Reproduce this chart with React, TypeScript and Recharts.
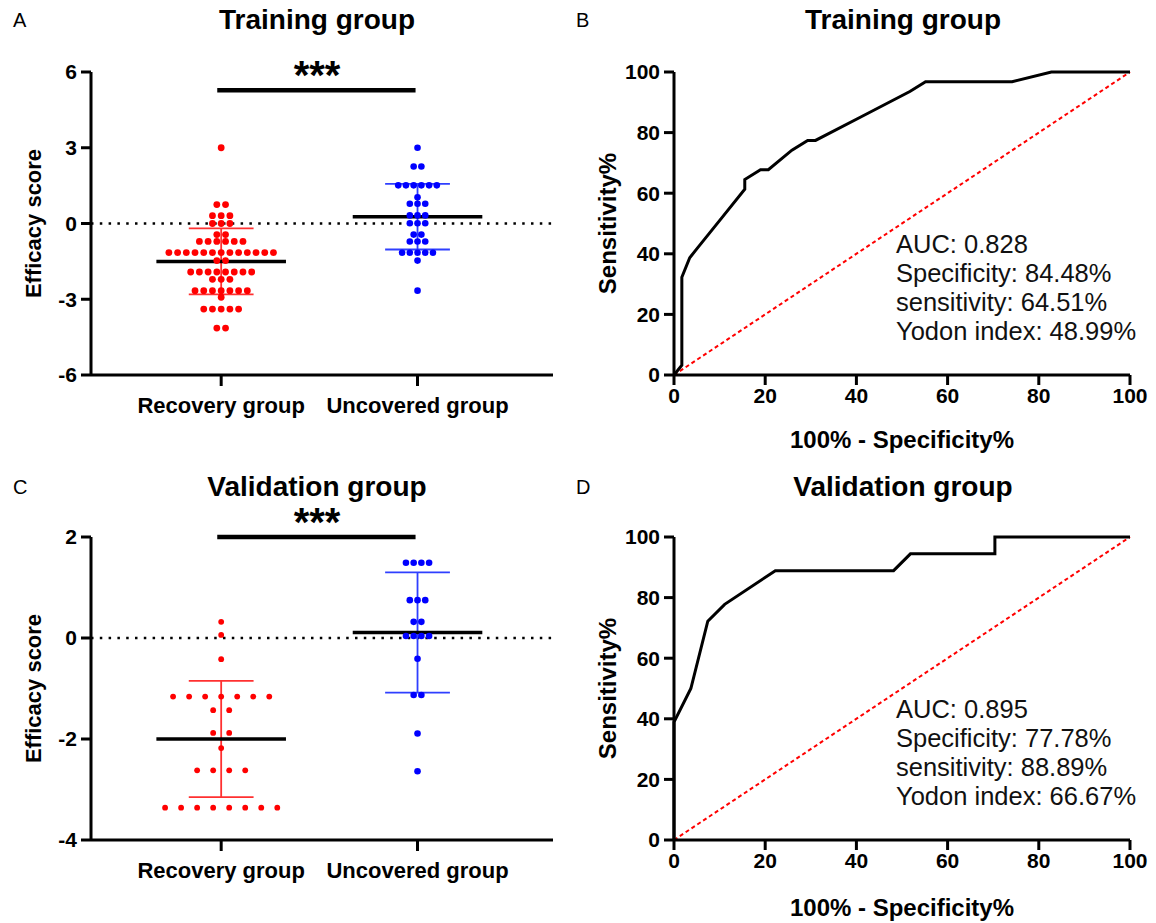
import React from 'react';
import { ScatterChart, Scatter, LineChart, Line, XAxis, YAxis, ReferenceLine, Label } from 'recharts';

// ---------- data ----------
const groupNames = ['Recovery group', 'Uncovered group'];

const trainRecovery = [
  3.0,
  0.75, 0.75,
  0.31, 0.31, 0.31,
  0.0, 0.0, 0.0,
  -0.44, -0.44,
  -0.71, -0.71, -0.71, -0.71, -0.71, -0.71,
  -1.15, -1.15, -1.15, -1.15, -1.15, -1.15, -1.15, -1.15, -1.15, -1.15, -1.15, -1.15, -1.15,
  -1.47, -1.47,
  -1.92, -1.92, -1.92, -1.92, -1.92, -1.92, -1.92, -1.92,
  -2.21, -2.21, -2.21,
  -2.66, -2.66, -2.66, -2.66, -2.66, -2.66, -2.66,
  -2.92,
  -3.39, -3.39, -3.39, -3.39, -3.39,
  -4.14, -4.14,
];
const trainUncovered = [
  3.0,
  2.26, 2.26,
  1.51, 1.51, 1.51, 1.51, 1.51, 1.51,
  1.04,
  0.78, 0.78, 0.78,
  0.32, 0.32, 0.32,
  0.01, 0.01, 0.01,
  -0.44, -0.44,
  -0.71, -0.71, -0.71,
  -1.16, -1.16, -1.16, -1.16, -1.16,
  -1.47,
  -2.66,
];
const validRecovery = [
  0.32,
  0.06,
  -0.42,
  -1.16, -1.16, -1.16, -1.16, -1.16, -1.16, -1.16,
  -1.43, -1.43,
  -1.88, -1.88,
  -2.18,
  -2.62, -2.62, -2.62, -2.62,
  -3.36, -3.36, -3.36, -3.36, -3.36, -3.36, -3.36, -3.36,
];
const validUncovered = [
  1.49, 1.49, 1.49, 1.49,
  0.75, 0.75, 0.75,
  0.32, 0.32,
  0.04, 0.04, 0.04, 0.04,
  -0.41,
  -1.13, -1.13,
  -1.89,
  -2.64,
];

const trainMeans = [-1.5, 0.27];
const trainSDs = [1.31, 1.3];
const validMeans = [-2.0, 0.11];
const validSDs = [1.15, 1.19];

const trainYTicks = [-6, -3, 0, 3, 6];
const validYTicks = [-4, -2, 0, 2];

const rocTrainFpr = [0, 1.72, 1.72, 3.45, 5.17, 10.34, 15.52, 15.52, 18.97, 20.69, 25.86, 29.31, 31.03, 41.38, 51.72, 55.17, 74.14, 82.76, 100];
const rocTrainTpr = [0, 3.23, 32.26, 38.71, 41.94, 51.61, 61.29, 64.52, 67.74, 67.74, 74.19, 77.42, 77.42, 85.48, 93.55, 96.77, 96.77, 100, 100];
const rocValidFpr = [0, 0, 3.7, 7.41, 11.11, 22.22, 48.15, 51.85, 70.37, 70.37, 100];
const rocValidTpr = [0, 38.89, 50.0, 72.22, 77.78, 88.89, 88.89, 94.44, 94.44, 100, 100];
const rocTicks = [0, 20, 40, 60, 80, 100];

const statsTrain = ['AUC: 0.828', 'Specificity: 84.48%', 'sensitivity: 64.51%', 'Yodon index: 48.99%'];
const statsValid = ['AUC: 0.895', 'Specificity: 77.78%', 'sensitivity: 88.89%', 'Yodon index: 66.67%'];

// ---------- style ----------
const FONT = '"Liberation Sans", Arial, Helvetica, sans-serif';
const GROUP_PX = 196;
const RED = '#FF0000';
const BLUE = '#0000FF';
const RED_BAR = '#FF3030';
const BLUE_BAR = '#2F3FFF';

const axisLineStyle = { stroke: '#000', strokeWidth: 3 };

function swarm(values: number[], group: number, spacingPx: number) {
  const counts = new Map<number, number>();
  values.forEach((v) => counts.set(v, (counts.get(v) || 0) + 1));
  const seen = new Map<number, number>();
  return values.map((v) => {
    const n = counts.get(v) as number;
    const i = seen.get(v) || 0;
    seen.set(v, i + 1);
    return { x: group + ((i - (n - 1) / 2) * spacingPx) / GROUP_PX, y: v };
  });
}

const dotShape = (r: number, color: string) => (props: any) =>
  <circle cx={props.cx} cy={props.cy} r={r} fill={color} />;

function DotPanel(props: {
  left: number; top: number; height: number; xAxisHeight: number;
  recovery: number[]; uncovered: number[]; means: number[]; sds: number[];
  yDomain: [number, number]; yTicks: number[]; sigY: number;
  spacing: [number, number]; radii: [number, number];
}) {
  const { left, top, height, xAxisHeight, recovery, uncovered, means, sds, yDomain, yTicks, sigY, spacing, radii } = props;
  const red = swarm(recovery, 1, spacing[0]);
  const blue = swarm(uncovered, 2, spacing[1]);
  const barColors = [RED_BAR, BLUE_BAR];
  return (
    <div style={{ position: 'absolute', left, top }}>
      <ScatterChart width={578} height={height} margin={{ top: 72, right: 25, bottom: 0, left: 0 }}>
        <XAxis
          type="number" dataKey="x" domain={[0.337, 2.69]} ticks={[1, 2]} interval={0}
          tickFormatter={(v: number) => groupNames[v - 1]} height={xAxisHeight}
          axisLine={axisLineStyle} tickLine={axisLineStyle} tickSize={11} tickMargin={11}
          tick={{ fill: '#000', fontSize: 22, fontWeight: 700, fontFamily: FONT }} allowDataOverflow
        />
        <YAxis
          type="number" dataKey="y" domain={yDomain} ticks={yTicks} interval={0} width={91}
          axisLine={axisLineStyle} tickLine={axisLineStyle} tickSize={10} tickMargin={4}
          tick={{ fill: '#000', fontSize: 21, fontWeight: 700, fontFamily: FONT }} allowDataOverflow
        >
          <Label value="Efficacy score" angle={-90} position="insideLeft" offset={33}
            style={{ textAnchor: 'middle', fontSize: 22, fontWeight: 700, fill: '#000', fontFamily: FONT }} />
        </YAxis>
        <ReferenceLine y={0} stroke="#000" strokeWidth={2.5} strokeDasharray="2.5 6.3" />
        <Scatter data={red} isAnimationActive={false} shape={dotShape(radii[0], RED)} />
        <Scatter data={blue} isAnimationActive={false} shape={dotShape(radii[1], BLUE)} />
        {means.map((m, g) => {
          const c = g + 1;
          const s = sds[g];
          return (
            <React.Fragment key={g}>
              <ReferenceLine segment={[{ x: c, y: m - s }, { x: c, y: m + s }]} stroke={barColors[g]} strokeWidth={1.8} />
              <ReferenceLine segment={[{ x: c - 0.165, y: m + s }, { x: c + 0.165, y: m + s }]} stroke={barColors[g]} strokeWidth={1.8} />
              <ReferenceLine segment={[{ x: c - 0.165, y: m - s }, { x: c + 0.165, y: m - s }]} stroke={barColors[g]} strokeWidth={1.8} />
              <ReferenceLine segment={[{ x: c - 0.33, y: m }, { x: c + 0.33, y: m }]} stroke="#000" strokeWidth={3.5} />
            </React.Fragment>
          );
        })}
        <ReferenceLine segment={[{ x: 0.98, y: sigY }, { x: 1.99, y: sigY }]} stroke="#000" strokeWidth={4.5} />
      </ScatterChart>
    </div>
  );
}

function RocPanel(props: {
  left: number; top: number; height: number; xAxisHeight: number; labelOffset: number;
  fpr: number[]; tpr: number[];
}) {
  const { left, top, height, xAxisHeight, labelOffset, fpr, tpr } = props;
  const data = fpr.map((f, i) => ({ fpr: f, tpr: tpr[i] }));
  return (
    <div style={{ position: 'absolute', left, top }}>
      <LineChart width={578} height={height} data={data} margin={{ top: 72, right: 26, bottom: 0, left: 0 }}>
        <XAxis
          type="number" dataKey="fpr" domain={[0, 100]} ticks={rocTicks} interval={0} height={xAxisHeight}
          axisLine={axisLineStyle} tickLine={axisLineStyle} tickSize={10} tickMargin={3}
          tick={{ fill: '#000', fontSize: 21, fontWeight: 700, fontFamily: FONT }}
        >
          <Label value="100% - Specificity%" position="insideBottom" offset={labelOffset}
            style={{ fontSize: 24, fontWeight: 700, fill: '#000', fontFamily: FONT }} />
        </XAxis>
        <YAxis
          type="number" domain={[0, 100]} ticks={rocTicks} interval={0} width={96}
          axisLine={axisLineStyle} tickLine={axisLineStyle} tickSize={10} tickMargin={4}
          tick={{ fill: '#000', fontSize: 21, fontWeight: 700, fontFamily: FONT }}
        >
          <Label value="Sensitivity%" angle={-90} position="insideLeft" offset={29}
            style={{ textAnchor: 'middle', fontSize: 24, fontWeight: 700, fill: '#000', fontFamily: FONT }} />
        </YAxis>
        <ReferenceLine segment={[{ x: 0, y: 0 }, { x: 100, y: 100 }]} stroke={RED} strokeWidth={2} strokeDasharray="4 3" />
        <Line dataKey="tpr" type="linear" stroke="#000" strokeWidth={3} dot={false} isAnimationActive={false} />
      </LineChart>
    </div>
  );
}

const textBase: React.CSSProperties = { position: 'absolute', fontFamily: FONT, color: '#000', whiteSpace: 'nowrap' };

function Title({ cx, top, text }: { cx: number; top: number; text: string }) {
  return (
    <div style={{ ...textBase, left: cx - 200, width: 400, top, textAlign: 'center', fontSize: 28, lineHeight: '28px', fontWeight: 700 }}>
      {text}
    </div>
  );
}

function Letter({ left, top, text }: { left: number; top: number; text: string }) {
  return <div style={{ ...textBase, left, top, fontSize: 20, lineHeight: '20px' }}>{text}</div>;
}

function Stars({ cx, top }: { cx: number; top: number }) {
  return (
    <div style={{ ...textBase, left: cx - 50, width: 100, top, textAlign: 'center', fontSize: 40, lineHeight: '20px', fontWeight: 700 }}>
      ***
    </div>
  );
}

function Stats({ left, top, lines }: { left: number; top: number; lines: string[] }) {
  return (
    <div style={{ ...textBase, left, top, fontSize: 25.5, lineHeight: '29px', color: '#111' }}>
      {lines.map((l, i) => <div key={i}>{l}</div>)}
    </div>
  );
}

export default function App() {
  return (
    <div style={{ position: 'absolute', left: 0, top: 0, width: 1156, height: 923, background: '#fff', overflow: 'hidden' }}>
      <DotPanel left={0} top={0} height={460} xAxisHeight={85}
        recovery={trainRecovery} uncovered={trainUncovered} means={trainMeans} sds={trainSDs}
        yDomain={[-6, 6]} yTicks={trainYTicks} sigY={5.28} spacing={[8.7, 7.7]} radii={[3.4, 3.3]} />
      <RocPanel left={578} top={0} height={460} xAxisHeight={85} labelOffset={12}
        fpr={rocTrainFpr} tpr={rocTrainTpr} />
      <DotPanel left={0} top={465} height={458} xAxisHeight={83}
        recovery={validRecovery} uncovered={validUncovered} means={validMeans} sds={validSDs}
        yDomain={[-4, 2]} yTicks={validYTicks} sigY={2} spacing={[16, 7.7]} radii={[2.9, 3.3]} />
      <RocPanel left={578} top={465} height={458} xAxisHeight={83} labelOffset={7}
        fpr={rocValidFpr} tpr={rocValidTpr} />

      <Letter left={13} top={10} text="A" />
      <Letter left={576} top={10} text="B" />
      <Letter left={13} top={477} text="C" />
      <Letter left={576} top={477} text="D" />

      <Title cx={317} top={6} text="Training group" />
      <Title cx={903} top={6} text="Training group" />
      <Title cx={317} top={473} text="Validation group" />
      <Title cx={903} top={473} text="Validation group" />

      <Stars cx={317} top={65} />
      <Stars cx={317} top={512} />

      <Stats left={896} top={230} lines={statsTrain} />
      <Stats left={896} top={695} lines={statsValid} />
    </div>
  );
}
